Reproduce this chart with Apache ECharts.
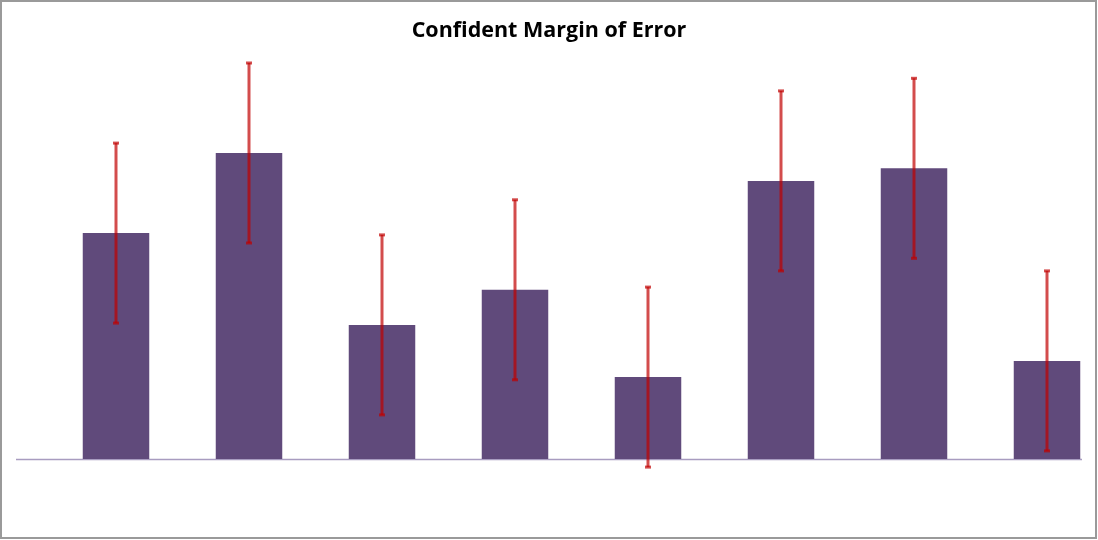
<!DOCTYPE html>
<html>
<head>
<meta charset="utf-8">
<script src="https://cdn.jsdelivr.net/npm/echarts@6/dist/echarts.min.js"></script>
<style>
html,body{margin:0;padding:0;background:#fff;}
#c{width:1098px;height:540px;}
</style>
</head>
<body>
<div id="c"></div>
<script>
const categories = ['A','B','C','D','E','F','G','H'];
const values = [2.51, 3.40, 1.49, 1.88, 0.91, 3.09, 3.23, 1.09];
const errors = [1.0, 1.0, 1.0, 1.0, 1.0, 1.0, 1.0, 1.0];
const titleText = 'Confident Margin of Error';

const errData = values.map((v, i) => [i, v - errors[i], v + errors[i]]);

const chart = echarts.init(document.getElementById('c'));
chart.setOption({
  animation: false,
  title: {
    text: titleText, left: 'center', top: 15,
    textStyle: {fontFamily: 'Open Sans', fontWeight: 'bold', fontSize: 21.5, color: '#000'}
  },
  graphic: [{
    type: 'rect', shape: {x: 1, y: 1, width: 1095, height: 537},
    style: {fill: 'none', stroke: '#9a9a9a', lineWidth: 2}, z: 100
  }, {
    type: 'line', shape: {x1: 16, y1: 459.5, x2: 1082, y2: 459.5},
    style: {stroke: '#A89CC0', lineWidth: 1.5}, z: 0
  }],
  grid: {left: 49.5, right: -15.5, top: 9, bottom: 81, containLabel: false, outerBoundsMode: 'none'},
  xAxis: {
    type: 'category', data: categories,
    axisLine: {show: false},
    axisTick: {show: false}, axisLabel: {show: false}
  },
  yAxis: {
    type: 'value', min: 0, max: 5,
    show: false, splitLine: {show: false}
  },
  series: [{
    type: 'bar', data: values, barCategoryGap: '50%', z: 2,
    itemStyle: {color: '#604A7B'}
  }, {
    type: 'custom', data: errData, clip: false, z: 10,
    renderItem: function (params, api) {
      const x = api.value(0);
      const lo = api.coord([x, api.value(1)]);
      const hi = api.coord([x, api.value(2)]);
      const col = 'rgba(192,0,0,0.7)';
      return {
        type: 'group',
        children: [
          {type: 'rect', shape: {x: lo[0] - 1.5, y: hi[1], width: 3, height: lo[1] - hi[1]}, style: {fill: col}},
          {type: 'rect', shape: {x: lo[0] - 3, y: hi[1] - 1.5, width: 6, height: 3}, style: {fill: col}},
          {type: 'rect', shape: {x: lo[0] - 3, y: lo[1] - 1.5, width: 6, height: 3}, style: {fill: col}}
        ]
      };
    }
  }]
});
</script>
</body>
</html>
